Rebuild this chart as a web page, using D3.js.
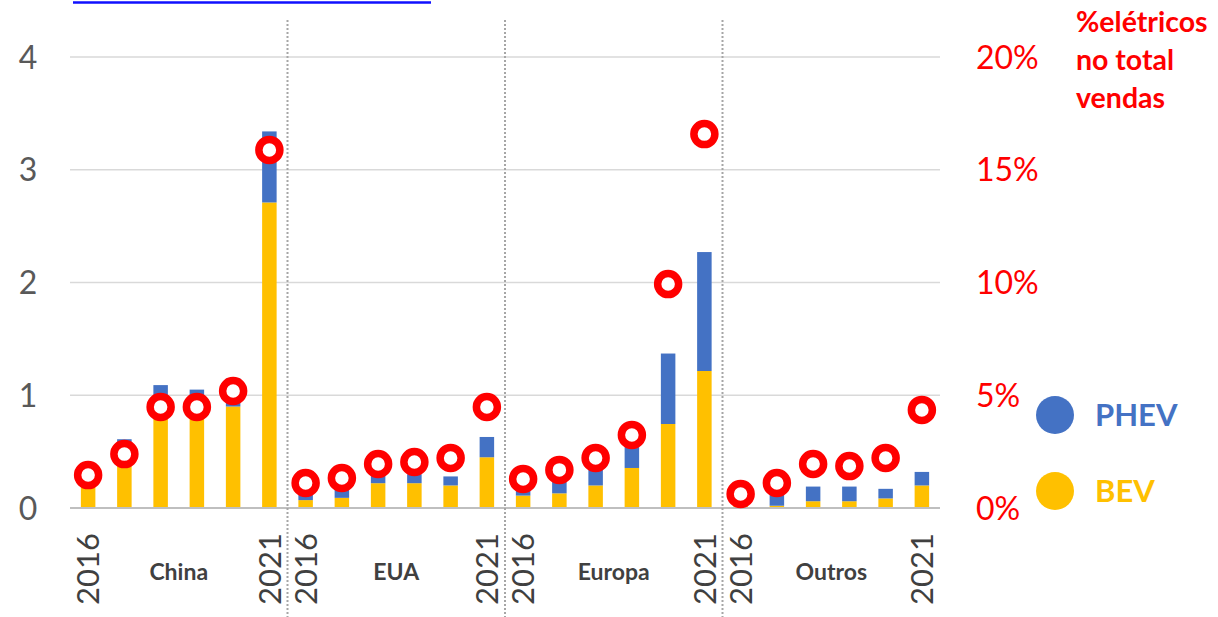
<!DOCTYPE html>
<html>
<head>
<meta charset="utf-8">
<script src="https://cdn.jsdelivr.net/npm/d3@7"></script>
<style>
  body { margin: 0; background: #fff; }
  svg { display: block; font-family: Lato, "Open Sans", sans-serif; }
</style>
</head>
<body>
<script>
"use strict";

// Width and height
let w = 1218;
let h = 617;

// data (millions of cars / share of sales)
let regions = ["China", "EUA", "Europa", "Outros"];
let years = [2016, 2017, 2018, 2019, 2020, 2021];
let bev = [
    [0.26, 0.47, 0.82, 0.83, 0.90, 2.71],
    [0.07, 0.09, 0.22, 0.22, 0.20, 0.45],
    [0.11, 0.13, 0.20, 0.355, 0.745, 1.215],
    [0.04, 0.02, 0.06, 0.06, 0.085, 0.20]
];
let phev = [
    [0.08, 0.14, 0.27, 0.22, 0.25, 0.63],
    [0.09, 0.10, 0.10, 0.08, 0.08, 0.18],
    [0.10, 0.13, 0.17, 0.22, 0.625, 1.055],
    [0.03, 0.10, 0.13, 0.13, 0.085, 0.12]
];
let share = [
    [1.46, 2.39, 4.48, 4.48, 5.19, 15.88],
    [1.11, 1.33, 1.95, 2.04, 2.22, 4.48],
    [1.29, 1.69, 2.22, 3.24, 9.93, 16.58],
    [0.62, 1.11, 1.95, 1.86, 2.22, 4.35]
];
let leftTicks = [0, 1, 2, 3, 4];
let rightTicks = [0, 5, 10, 15, 20];

let colBev = "#FFC000";
let colPhev = "#4472C4";
let red = "#FF0000";

let rows = [];
regions.forEach((r, i) => {
    years.forEach((y, j) => {
        rows.push({key: r + y, region: r, year: y, bev: bev[i][j], phev: phev[i][j], pct: share[i][j]});
    });
});

let svg = d3.select("body").append("svg")
    .attr("width", w)
    .attr("height", h);

let x = d3.scaleBand()
    .domain(rows.map(d => d.key))
    .range([70, 940])
    .paddingInner(0.6)
    .paddingOuter(0.3);

let y = d3.scaleLinear().domain([0, 4]).range([508, 57]);
let y2 = d3.scaleLinear().domain([0, 20]).range([508, 57]);

// link-like underline in the top left corner
svg.append("line")
    .attr("x1", 73).attr("x2", 431)
    .attr("y1", 2.5).attr("y2", 2.5)
    .attr("stroke", "#1010ff")
    .attr("stroke-width", 2.5);

// gridlines
svg.append("g")
    .selectAll("line")
    .data(leftTicks.slice(1))
    .enter().append("line")
    .attr("x1", 70).attr("x2", 940)
    .attr("y1", d => y(d)).attr("y2", d => y(d))
    .attr("stroke", "#d9d9d9")
    .attr("stroke-width", 1.5);

// left axis labels
svg.append("g")
    .selectAll("text")
    .data(leftTicks)
    .enter().append("text")
    .attr("x", 28)
    .attr("y", d => y(d))
    .attr("dy", "0.36em")
    .attr("text-anchor", "middle")
    .attr("font-size", 32)
    .attr("fill", "#595959")
    .text(d => d);

// right axis labels
svg.append("g")
    .selectAll("text")
    .data(rightTicks)
    .enter().append("text")
    .attr("x", 976)
    .attr("y", d => y2(d))
    .attr("dy", "0.36em")
    .attr("font-size", 32)
    .attr("fill", red)
    .text(d => d + "%");

// stacked bars
let bars = svg.append("g");
bars.selectAll("rect.bev")
    .data(rows)
    .enter().append("rect")
    .attr("class", "bev")
    .attr("x", d => x(d.key))
    .attr("width", x.bandwidth())
    .attr("y", d => y(d.bev))
    .attr("height", d => y(0) - y(d.bev))
    .attr("fill", colBev);
bars.selectAll("rect.phev")
    .data(rows)
    .enter().append("rect")
    .attr("class", "phev")
    .attr("x", d => x(d.key))
    .attr("width", x.bandwidth())
    .attr("y", d => y(d.bev + d.phev))
    .attr("height", d => y(d.bev) - y(d.bev + d.phev))
    .attr("fill", colPhev);

// baseline
svg.append("line")
    .attr("x1", 70).attr("x2", 940)
    .attr("y1", y(0)).attr("y2", y(0))
    .attr("stroke", "#bfbfbf")
    .attr("stroke-width", 2);

// dotted dividers between regions
let groupW = (940 - 70) / regions.length;
svg.append("g")
    .selectAll("line")
    .data(regions.slice(1))
    .enter().append("line")
    .attr("x1", (d, i) => 70 + groupW * (i + 1))
    .attr("x2", (d, i) => 70 + groupW * (i + 1))
    .attr("y1", 20).attr("y2", h)
    .attr("stroke", "#a6a6a6")
    .attr("stroke-width", 2)
    .attr("stroke-dasharray", "2,2");

// share markers
svg.append("g")
    .selectAll("circle")
    .data(rows)
    .enter().append("circle")
    .attr("cx", d => x(d.key) + x.bandwidth() / 2)
    .attr("cy", d => y2(d.pct))
    .attr("r", 10.5)
    .attr("fill", "#fff")
    .attr("stroke", red)
    .attr("stroke-width", 7.5);

// year labels (first and last of each region)
svg.append("g")
    .selectAll("text")
    .data(rows.filter(d => d.year === 2016 || d.year === 2021))
    .enter().append("text")
    .attr("transform", d => `translate(${x(d.key) + x.bandwidth() / 2},533) rotate(-90)`)
    .attr("dy", "0.36em")
    .attr("text-anchor", "end")
    .attr("font-size", 31)
    .attr("fill", "#404040")
    .text(d => d.year);

// region labels
svg.append("g")
    .selectAll("text")
    .data(regions)
    .enter().append("text")
    .attr("x", (d, i) => 70 + groupW * (i + 0.5))
    .attr("y", 572)
    .attr("dy", "0.36em")
    .attr("text-anchor", "middle")
    .attr("font-size", 23)
    .attr("font-weight", "bold")
    .attr("fill", "#404040")
    .text(d => d);

// title of the right axis
svg.append("text")
    .attr("x", 1076)
    .attr("font-size", 28.5)
    .attr("font-weight", "bold")
    .attr("fill", red)
    .selectAll("tspan")
    .data(["%elétricos", "no total", "vendas"])
    .enter().append("tspan")
    .attr("x", 1076)
    .attr("y", (d, i) => 32 + i * 38)
    .text(d => d);

// legend
let legend = [{name: "PHEV", color: colPhev, cy: 415}, {name: "BEV", color: colBev, cy: 491}];
let lg = svg.append("g")
    .selectAll("g")
    .data(legend)
    .enter().append("g");
lg.append("circle")
    .attr("cx", 1055)
    .attr("cy", d => d.cy)
    .attr("r", 19)
    .attr("fill", d => d.color);
lg.append("text")
    .attr("x", 1095)
    .attr("y", d => d.cy)
    .attr("dy", "0.36em")
    .attr("font-size", 31)
    .attr("font-weight", "bold")
    .attr("fill", d => d.color)
    .text(d => d.name);
</script>
</body>
</html>
